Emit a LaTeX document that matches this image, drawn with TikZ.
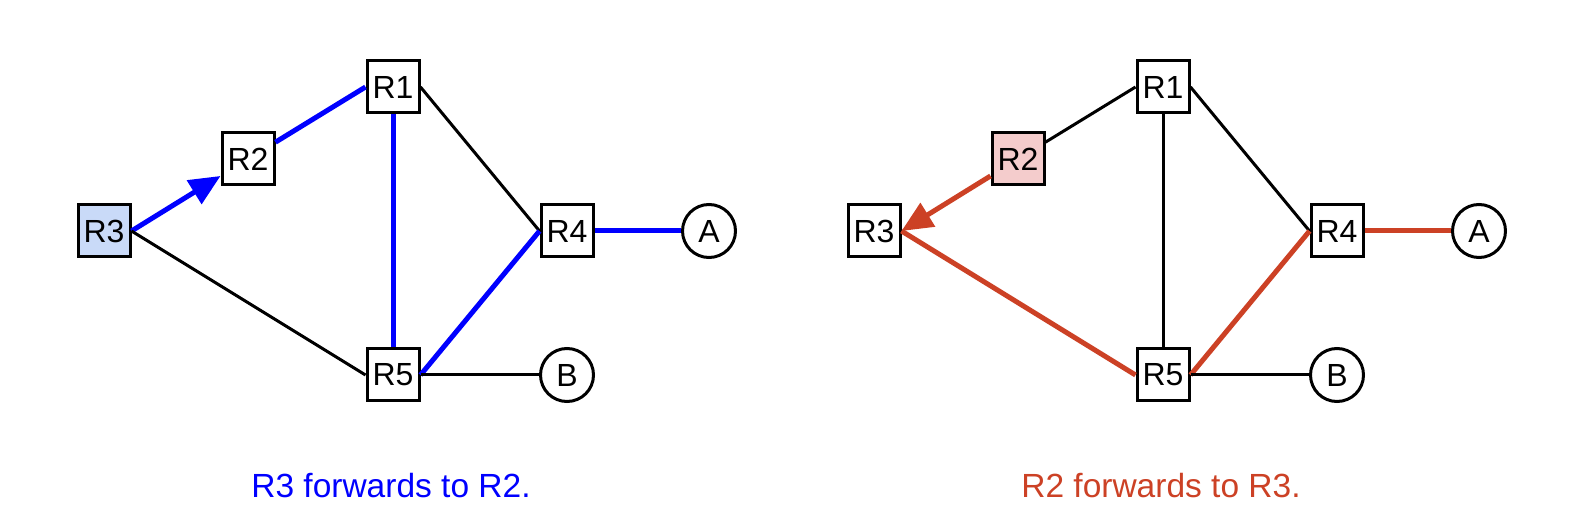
\documentclass[tikz,border=0pt]{standalone}
\usepackage{fontspec}
\setmainfont{Liberation Sans}
\usetikzlibrary{arrows.meta}
\definecolor{pblue}{HTML}{0000FF}
\definecolor{pred}{HTML}{CC4125}
\definecolor{lblue}{HTML}{C9DAF8}
\definecolor{lred}{HTML}{F4CCCC}
\begin{document}
\begin{tikzpicture}[x=1pt,y=-1pt,
  router/.style={draw=black, line width=3pt, fill=white, minimum size=52pt, inner sep=0pt, font=\fontsize{32}{36}\selectfont},
  host/.style={circle, draw=black, line width=3pt, fill=white, minimum size=53pt, inner sep=0pt, font=\fontsize{32}{36}\selectfont},
  link/.style={line width=3pt, black},
  blink/.style={line width=5pt, pblue},
  rlink/.style={line width=5pt, pred},
  tip/.style={-{Triangle[length=31pt,width=27pt]}},
  caption/.style={anchor=base, font=\fontsize{33.5}{38}\selectfont}]
\path[use as bounding box] (0,0) rectangle (1583,526);
% left diagram
\node[router, fill=lblue] (lR3) at (104,231) {R3};
\node[router] (lR2) at (248,159) {R2};
\node[router] (lR1) at (393,87) {R1};
\node[router] (lR4) at (567,231) {R4};
\node[host] (lA) at (709,231) {A};
\node[router] (lR5) at (393,375) {R5};
\node[host] (lB) at (567,375) {B};
\draw[blink, tip] (lR3.east) -- (lR2);
\draw[blink] (lR2) -- (lR1.west);
\draw[link] (lR1.east) -- (lR4.west);
\draw[blink] (lR1) -- (lR5);
\draw[link] (lR3.east) -- (lR5.west);
\draw[blink] (lR5.east) -- (lR4.west);
\draw[link] (lR5) -- (lB);
\draw[blink] (lR4) -- (lA);
\node[caption, text=pblue] (lcap) at (391,497) {R3 forwards to R2.};
% right diagram
\node[router] (rR3) at (874,231) {R3};
\node[router, fill=lred] (rR2) at (1018,159) {R2};
\node[router] (rR1) at (1163,87) {R1};
\node[router] (rR4) at (1337,231) {R4};
\node[host] (rA) at (1479,231) {A};
\node[router] (rR5) at (1163,375) {R5};
\node[host] (rB) at (1337,375) {B};
\draw[rlink, tip] (rR2) -- (rR3.east);
\draw[link] (rR2) -- (rR1.west);
\draw[link] (rR1.east) -- (rR4.west);
\draw[link] (rR1) -- (rR5);
\draw[rlink] (rR3.east) -- (rR5.west);
\draw[rlink] (rR5.east) -- (rR4.west);
\draw[link] (rR5) -- (rB);
\draw[rlink] (rR4) -- (rA);
\node[caption, text=pred] (rcap) at (1161,497) {R2 forwards to R3.};
\end{tikzpicture}
\end{document}
